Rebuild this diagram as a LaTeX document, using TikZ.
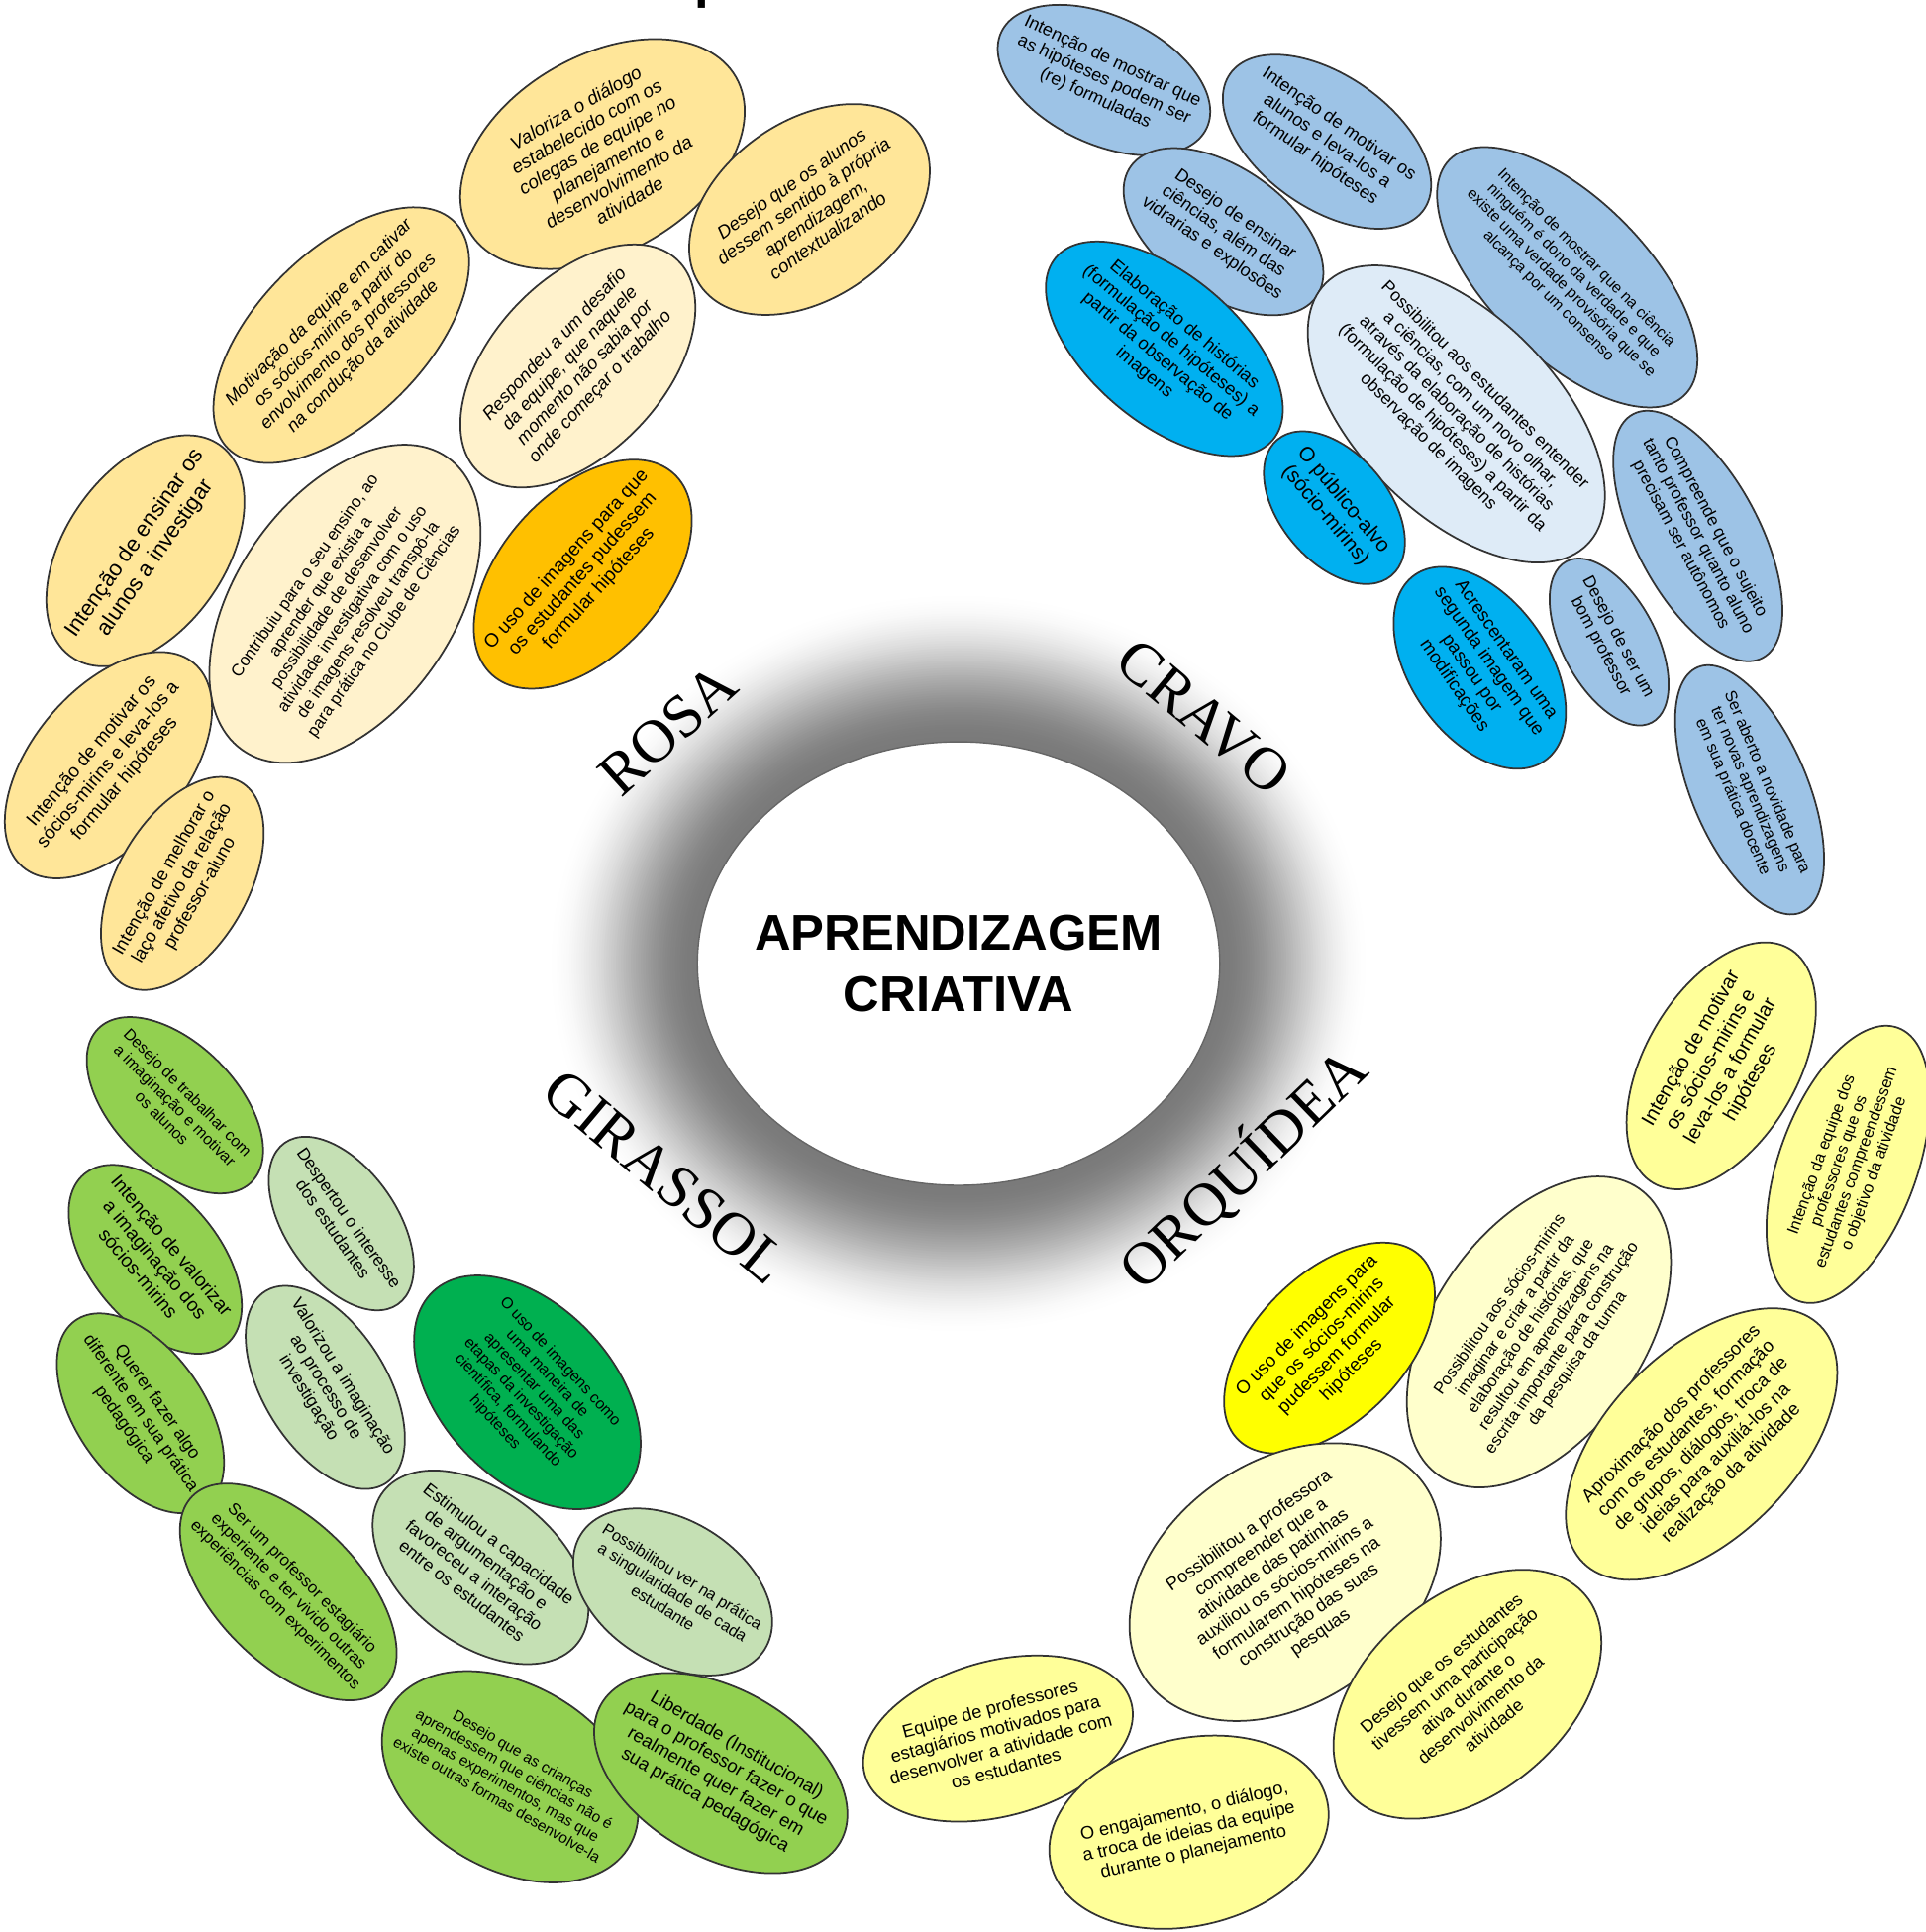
\documentclass[tikz,border=0pt]{standalone}
\usepackage{fontspec}
\setmainfont{Liberation Sans}
\newfontfamily\labelfont{Liberation Serif}
\usetikzlibrary{shapes.geometric}
\definecolor{rosaA}{HTML}{FFE699}
\definecolor{rosaB}{HTML}{FFF2CC}
\definecolor{rosaC}{HTML}{FFC000}
\definecolor{cravoA}{HTML}{9DC3E6}
\definecolor{cravoB}{HTML}{DEEBF7}
\definecolor{cravoC}{HTML}{00B0F0}
\definecolor{orqA}{HTML}{FFFF99}
\definecolor{orqB}{HTML}{FFFFCC}
\definecolor{orqC}{HTML}{FFFF00}
\definecolor{giraA}{HTML}{92D050}
\definecolor{giraB}{HTML}{C5E0B4}
\definecolor{giraC}{HTML}{00B050}
\newcommand{\fs}[1]{\fontsize{\fpeval{0.9*#1}}{\fpeval{1.03*#1}}\selectfont}
\tikzset{
  bubble/.style={ellipse, draw=black!80, line width=0.5pt, inner sep=0pt},
  bubtext/.style={align=center, inner sep=0pt, text=black},
  flower/.style={font=\labelfont\fontsize{17.5}{20}\selectfont, inner sep=0pt},
}
\newcommand{\bub}[8]{%
  \node[bubble, fill=#6, minimum width={#4*0.025cm}, minimum height={#5*0.025cm}, rotate=#3] (#1) at (#2) {};
  \node[bubtext, rotate=#3, font={#7}] (#1-t) at (#1.center) {#8};
}
\begin{document}
\begin{tikzpicture}[x=0.0125cm, y=-0.0125cm]
\useasboundingbox (0,0) rectangle (1563,1568);
\fill[white] (0,0) rectangle (1563,1568);

% top cut-off glyph
\node[font=\bfseries\fontsize{15}{17}\selectfont, anchor=base, inner sep=0pt] (toptitle) at (577,-2) {p};

% central glow (soft shadow) and ellipse
\foreach \i in {0,...,60}{
  \pgfmathsetmacro\t{\i/60}
  \pgfmathsetmacro\g{52*\t*\t*(3-2*\t)}
  \fill[black!\g] (778,782) ellipse [x radius={334-2*\i}, y radius={302-2*\i}];
}
\node[ellipse, draw=black!60, line width=0.4pt, fill=white, minimum width={424*0.0125cm}, minimum height={360*0.0125cm}, inner sep=0pt] (center) at (778,782) {};
\node[font=\bfseries\fontsize{14.5}{18}\selectfont, align=center] (title) at (778,782) {APRENDIZAGEM\\CRIATIVA};

% flower labels
\node[flower, rotate=42] (rosa) at (542,592) {ROSA};
\node[flower, rotate=-40] (cravo) at (977,582) {CRAVO};
\node[flower, rotate=-40] (girassol) at (540,955) {GIRASSOL};
\node[flower, rotate=44] (orquidea) at (1008,948) {ORQUÍDEA};

% ROSA
\bub{r1}{489,125}{30}{125}{80}{rosaA}{\fs{6.0}\itshape}{Valoriza o diálogo\\estabelecido com os\\colegas de equipe no\\planejamento e\\desenvolvimento da\\atividade}
\bub{r2}{657,170}{35}{108}{72}{rosaA}{\fs{5.9}\itshape}{Desejo que os alunos\\dessem sentido à própria\\aprendizagem,\\contextualizando}
\bub{r3}{277,272}{45}{130}{68}{rosaA}{\fs{5.8}\itshape}{Motivação da equipe em cativar\\os sócios-mirins a partir do\\envolvimento dos professores\\na condução da atividade}
\bub{r4}{118,447}{55}{105}{65}{rosaA}{\fs{7.1}}{Intenção de ensinar os\\alunos a investigar}
\bub{r5}{280,490}{55}{145}{88}{rosaB}{\fs{5.4}}{Contribuiu para o seu ensino, ao\\aprender que existia a\\possibilidade de desenvolver\\atividade investigativa com o uso\\de imagens resolveu transpô-la\\para prática no Clube de Ciências}
\bub{r6}{469,297}{47}{118}{70}{rosaB}{\fs{5.8}\itshape}{Respondeu a um desafio\\da equipe, que naquele\\momento não sabia por\\onde começar o trabalho}
\bub{r7}{473,466}{48}{110}{66}{rosaC}{\fs{6.1}}{O uso de imagens para que\\os estudantes pudessem\\formular hipóteses}
\bub{r8}{88,621}{50}{108}{62}{rosaA}{\fs{6.0}}{Intenção de motivar os\\sócios-mirins e leva-los a\\formular hipóteses}
\bub{r9}{148,717}{60}{95}{53}{rosaA}{\fs{5.8}}{Intenção de melhorar o\\laço afetivo da relação\\professor-aluno}

% CRAVO
\bub{c1}{896,65}{-25}{92}{52}{cravoA}{\fs{5.7}}{Intenção de mostrar que\\as hipóteses podem ser\\(re) formuladas}
\bub{c2}{1077,115}{-35}{96}{54}{cravoA}{\fs{5.8}}{Intenção de motivar os\\alunos e leva-los a\\formular hipóteses}
\bub{c3}{993,188}{-35}{92}{52}{cravoA}{\fs{5.7}}{Desejo de ensinar\\ciências, além das\\vidrarias e explosões}
\bub{c4}{1272,225}{-45}{135}{64}{cravoA}{\fs{5.0}}{Intenção de mostrar que na ciência\\ninguém é dono da verdade e que\\existe uma verdade provisória que se\\alcança por um consenso}
\bub{c5}{945,283}{-40}{115}{60}{cravoC}{\fs{5.8}}{Elaboração de histórias\\(formulação de hipóteses) a\\partir da observação de\\imagens}
\bub{c6}{1182,336}{-45}{150}{81}{cravoB}{\fs{5.6}}{Possibilitou aos estudantes entender\\a ciências, com um novo olhar,\\através da elaboração de histórias\\(formulação de hipóteses) a partir da\\observação de imagens}
\bub{c7}{1083,412}{-50}{72}{44}{cravoC}{\fs{6.6}}{O público-alvo\\(sócio-mirins)}
\bub{c8}{1201,542}{-55}{92}{56}{cravoC}{\fs{5.9}}{Acrescentaram uma\\segunda imagem que\\passou por\\modificações}
\bub{c9}{1306,521}{-62}{74}{38}{cravoA}{\fs{5.5}}{Desejo de ser um\\bom professor}
\bub{c10}{1378,435}{-62}{112}{50}{cravoA}{\fs{5.5}}{Compreende que o sujeito\\tanto professor quanto aluno\\precisam ser autônomos}
\bub{c11}{1420,641}{-67}{108}{47}{cravoA}{\fs{5.2}}{Ser aberto a novidade para\\ter novas aprendizagens\\em sua prática docente}

% ORQUIDEA
\bub{o1}{1397,865}{60}{110}{62}{orqA}{\fs{6.4}}{Intenção de motivar\\os sócios-mirins e\\leva-los a formular\\hipóteses}
\bub{o2}{1500,945}{70}{118}{56}{orqA}{\fs{5.2}}{Intenção da equipe dos\\professores que os\\estudantes compreendessem\\o objetivo da atividade}
\bub{o3}{1249,1081}{55}{142}{85}{orqB}{\fs{5.3}}{Possibilitou aos sócios-mirins\\imaginar e criar a partir da\\elaboração de histórias, que\\resultou em aprendizagens na\\escrita importante para construção\\da pesquisa da turma}
\bub{o4}{1079,1094}{45}{105}{60}{orqC}{\fs{5.9}}{O uso de imagens para\\que os sócios-mirins\\pudessem formular\\hipóteses}
\bub{o5}{1381,1172}{45}{136}{76}{orqA}{\fs{5.9}}{Aproximação dos professores\\com os estudantes, formação\\de grupos, diálogos, troca de\\ideias para auxiliá-los na\\realização da atividade}
\bub{o6}{1043,1284}{35}{138}{98}{orqB}{\fs{5.8}}{Possibilitou a professora\\compreender que a\\atividade das patinhas\\auxiliou os sócios-mirins a\\formularem hipóteses na\\construção das suas\\pesquas}
\bub{o7}{1191,1375}{40}{125}{80}{orqA}{\fs{5.7}}{Desejo que os estudantes\\tivessem uma participação\\ativa durante o\\desenvolvimento da\\atividade}
\bub{o8}{810,1411}{15}{112}{63}{orqA}{\fs{5.8}}{Equipe de professores\\estagiários motivados para\\desenvolver a atividade com\\os estudantes}
\bub{o9}{965,1487}{13}{115}{76}{orqA}{\fs{5.8}}{O engajamento, o diálogo,\\a troca de ideias da equipe\\durante o planejamento}

% GIRASSOL
\bub{g1}{142,897}{-45}{88}{50}{giraA}{\fs{5.1}}{Desejo de trabalhar com\\a imaginação e motivar\\os alunos}
\bub{g2}{277,993}{-55}{80}{45}{giraB}{\fs{5.5}}{Despertou o interesse\\dos estudantes}
\bub{g3}{126,1022}{-50}{90}{52}{giraA}{\fs{6.1}}{Intenção de valorizar\\a imaginação dos\\sócios-mirins}
\bub{g4}{264,1126}{-58}{92}{50}{giraB}{\fs{5.6}}{Valorizou a imaginação\\ao processo de\\investigação}
\bub{g5}{428,1130}{-47}{112}{70}{giraC}{\fs{5.0}}{O uso de imagens como\\uma maneira de\\apresentar uma das\\etapas da investigação\\científica, formulando\\hipóteses}
\bub{g6}{114,1147}{-55}{92}{52}{giraA}{\fs{5.6}}{Querer fazer algo\\diferente em sua prática\\pedagógica}
\bub{g7}{234,1292}{-45}{110}{58}{giraA}{\fs{5.3}}{Ser um professor estagiário\\experiente e ter vivido outras\\experiências com experimentos}
\bub{g8}{390,1272}{-38}{100}{62}{giraB}{\fs{5.6}}{Estimulou a capacidade\\de argumentação e\\favoreceu a interação\\entre os estudantes}
\bub{g9}{546,1292}{-32}{88}{58}{giraB}{\fs{5.2}}{Possibilitou ver na prática\\a singularidade de cada\\estudante}
\bub{g10}{414,1442}{-30}{112}{75}{giraA}{\fs{4.9}}{Desejo que as crianças\\aprendessem que ciências não é\\apenas experimentos, mas que\\existe outras formas desenvolve-la}
\bub{g11}{585,1439}{-30}{112}{68}{giraA}{\fs{5.9}}{Liberdade (Institucional)\\para o professor fazer o que\\realmente quer fazer em\\sua prática pedagógica}
\end{tikzpicture}
\end{document}
